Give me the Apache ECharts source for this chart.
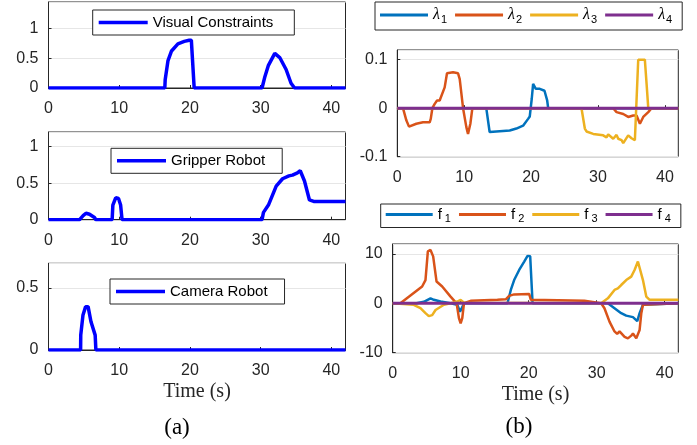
<!DOCTYPE html>
<html><head><meta charset="utf-8">
<script src="https://cdn.jsdelivr.net/npm/echarts@6/dist/echarts.min.js"></script>
<style>html,body{margin:0;padding:0;background:#fff}#c{width:697px;height:445px}</style>
</head><body><div id="c"></div>
<script>
// ---- data ----
var visX = [0, 16.45, 16.5, 16.9, 17.4, 18.3, 19.2, 19.9, 20.2, 20.6, 30.2, 30.6, 31.1, 32.0, 32.7, 33.6, 34.3, 34.8, 42];
var visY = [0, 0, 0.14, 0.46, 0.62, 0.74, 0.78, 0.8, 0.8, 0, 0, 0.19, 0.38, 0.58, 0.51, 0.31, 0.08, 0, 0];

var gripX = [0, 4.4, 4.9, 5.3, 5.8, 6.5, 6.7, 9.0, 9.1, 9.5, 9.9, 10.2, 10.4, 30.2, 30.4, 31.1, 32.2, 33.1, 34.0, 34.5, 35.2, 35.6, 36.2, 36.9, 37.5, 42];
var gripY = [0, 0, 0.055, 0.088, 0.074, 0.03, 0, 0, 0.2, 0.3, 0.29, 0.2, 0, 0, 0.1, 0.2, 0.46, 0.56, 0.6, 0.61, 0.64, 0.67, 0.53, 0.27, 0.25, 0.25];

var camX = [0, 4.54, 4.56, 4.87, 5.24, 5.6, 6.0, 6.6, 6.7, 42];
var camY = [0, 0, 0.12, 0.28, 0.35, 0.35, 0.23, 0.12, 0, 0];

var lam1X = [0, 13.3, 13.8, 14.8, 16.8, 17.8, 18.8, 19.55, 19.8, 20.1, 20.3, 20.45, 20.7, 21.3, 22.0, 22.4, 22.55, 42];
var lam1Y = [0, 0, -0.049, -0.048, -0.046, -0.042, -0.036, -0.022, -0.017, 0.02, 0.05, 0.053, 0.04, 0.04, 0.036, 0.016, 0, 0];

var lam2X = [0, 0.85, 1.35, 1.75, 2.84, 3.84, 4.84, 5.0, 5.24, 5.59, 5.94, 6.33, 7.08, 7.43, 8.33, 9.08, 9.33, 9.83, 10.32, 10.57, 10.92, 11.22, 32.27, 32.77, 33.77, 34.51, 35.26, 35.76, 36.26, 36.76, 37.51, 38.0, 42];
var lam2Y = [0, 0, -0.025, -0.038, -0.032, -0.029, -0.029, -0.022, 0, 0.009, 0.016, 0.016, 0.043, 0.072, 0.074, 0.072, 0.06, 0, -0.039, -0.053, -0.032, 0, 0, -0.008, -0.012, -0.018, -0.015, -0.015, -0.032, -0.018, -0.008, 0, 0];

var lam3X = [0, 27.53, 28.03, 28.28, 29.28, 30.77, 31.27, 31.52, 32.27, 32.77, 33.02, 33.52, 33.77, 34.51, 35.01, 35.51, 35.76, 36.01, 37.0, 37.26, 37.51, 42];
var lam3Y = [0, 0, -0.042, -0.048, -0.053, -0.056, -0.06, -0.054, -0.063, -0.055, -0.063, -0.066, -0.072, -0.056, -0.062, -0.066, -0.062, 0.1, 0.1, 0.05, 0, 0];

var lam4X = [0, 42];
var lam4Y = [0, 0];

var f1X = [0, 3.5, 4.58, 5.56, 6.05, 7.04, 8.51, 9.5, 9.9, 10.25, 10.5, 16.88, 17.37, 17.86, 18.6, 19.34, 19.83, 20.22, 20.42, 20.57, 31.64, 32.62, 33.6, 34.34, 35.33, 35.97, 36.31, 36.8, 37.05, 42];
var f1Y = [0, 0, 0.3, 1.0, 0.7, 0.35, 0, -0.3, -1.7, -0.7, 0, 0, 2.7, 4.7, 6.75, 8.45, 9.6, 9.5, 4.05, 0, 0, -1.0, -2.0, -2.5, -2.8, -3.6, -2.0, -0.3, 0, 0];

var f2X = [0, 1.13, 4.33, 4.82, 5.17, 5.56, 5.95, 6.45, 7.28, 8.51, 9.4, 9.74, 9.99, 10.23, 10.48, 11.46, 15.4, 16.63, 17.12, 17.86, 20.07, 20.32, 20.57, 28.19, 30.65, 31.14, 31.88, 32.62, 33.01, 33.36, 34.1, 34.59, 35.08, 35.33, 35.82, 36.06, 36.31, 36.56, 36.8, 37.05, 42];
var f2Y = [0, 0, 3.4, 4.7, 10.5, 10.8, 9.5, 4.4, 3.4, 1.35, 0, -3.0, -4.05, -3.0, 0, 0.5, 0.7, 0.8, 1.5, 1.8, 1.9, 0.7, 0.5, 0.5, 0, -1.0, -3.7, -5.7, -6.2, -5.7, -6.8, -7.1, -6.55, -6.1, -7.1, -7.4, -5.4, -2.0, -0.3, 0, 0];

var f3X = [0, 3.1, 4.08, 4.82, 5.31, 5.81, 6.3, 7.53, 8.51, 9.5, 9.99, 10.48, 30.65, 31.64, 32.62, 33.11, 33.6, 34.34, 35.08, 35.57, 36.06, 36.31, 36.8, 37.29, 37.79, 42];
var f3Y = [0, -0.3, -1.0, -2.0, -2.6, -2.4, -1.35, -0.3, 0, 0.35, 0.7, 0.1, 0, 1.0, 2.7, 3.0, 3.7, 4.7, 5.4, 6.75, 8.45, 8.45, 4.7, 1.35, 0.7, 0.7];

var f4X = [0, 42];
var f4Y = [0, 0];

// ---- helpers ----
function pts(xs, ys) { return xs.map(function (x, i) { return [x, ys[i]]; }); }
var AX = '#262626';
var sans = 'Liberation Sans';
var serif = 'Liberation Serif';

function xAx(gi, nameTxt) {
  var a = {
    type: 'value', gridIndex: gi, min: 0, max: 42, interval: 10,
    axisLine: { show: true, lineStyle: { color: AX, width: 1 } },
    axisTick: { show: true, inside: true, length: 3, lineStyle: { color: AX } },
    axisLabel: { color: AX, fontSize: 16, fontFamily: sans, margin: 13, showMaxLabel: false },
    splitLine: { show: false }
  };
  if (nameTxt) {
    a.name = nameTxt; a.nameLocation = 'middle'; a.nameGap = 32;
    a.nameTextStyle = { fontFamily: serif, fontSize: 20, color: AX };
  }
  return a;
}
function yAx(gi, mn, mx, iv) {
  return {
    type: 'value', gridIndex: gi, min: mn, max: mx, interval: iv,
    axisLine: { show: true, lineStyle: { color: AX, width: 1 } },
    axisTick: { show: true, inside: true, length: 3, lineStyle: { color: AX } },
    axisLabel: { color: AX, fontSize: 16, fontFamily: sans, margin: 10, showMaxLabel: false },
    splitLine: { show: true, lineStyle: { color: '#e6e6e6', width: 1 } }
  };
}
function ser(name, gi, xs, ys, color, w) {
  return {
    type: 'line', name: name, xAxisIndex: gi, yAxisIndex: gi, data: pts(xs, ys),
    symbol: 'none', showSymbol: false, animation: false,
    lineStyle: { color: color, width: w }, itemStyle: { color: color }
  };
}
function gridBox(l, t, w, h) {
  return { left: l, top: t, width: w, height: h, show: true, borderColor: AX, borderWidth: 1, backgroundColor: '#fff' };
}
function leftLegend(name, l, t, pr) {
  return {
    data: [name], left: l, top: t, icon: 'rect', itemWidth: 49, itemHeight: 3.5,
    padding: [5, pr, 5, 6], borderColor: AX, borderWidth: 1, backgroundColor: '#fff',
    textStyle: { fontSize: 15, fontFamily: sans, color: '#000' }, selectedMode: false
  };
}

var C1 = '#0072BD', C2 = '#D95319', C3 = '#EDB120', C4 = '#7E2F8E', B = '#0000FF';

var option = {
  animation: false,
  backgroundColor: '#fff',
  grid: [
    gridBox(48.5, 2, 297, 86),
    gridBox(48.5, 132, 297, 87.7),
    gridBox(48.5, 263.3, 297, 86.7),
    gridBox(397.3, 50, 281, 106.7),
    gridBox(392.7, 244, 285.6, 108.7)
  ],
  xAxis: [xAx(0), xAx(1), xAx(2, 'Time (s)'), xAx(3), xAx(4, 'Time (s)')],
  yAxis: [yAx(0, 0, 1.44, 0.5), yAx(1, 0, 1.2, 0.5), yAx(2, 0, 0.7, 0.5), yAx(3, -0.1, 0.12, 0.1), yAx(4, -10, 12, 10)],
  legend: [
    leftLegend('Visual Constraints', 92.7, 10, 21),
    leftLegend('Gripper Robot', 111, 148.3, 17),
    leftLegend('Camera Robot', 110, 279, 17),
    {
      data: ['λ1', 'λ2', 'λ3', 'λ4'], left: 375, top: 2, icon: 'rect', itemWidth: 48, itemHeight: 3,
      itemGap: 8, padding: [5, 10, 5, 5], borderColor: AX, borderWidth: 1, backgroundColor: '#fff', selectedMode: false,
      formatter: function (n) { return '{g|λ}{s|' + n.slice(1) + '}'; },
      textStyle: { color: '#000', rich: {
        g: { fontFamily: serif, fontStyle: 'italic', fontSize: 16, color: '#000' },
        s: { fontFamily: sans, fontSize: 11, color: '#000', padding: [9, 0, 0, 1] }
      } }
    },
    {
      data: ['f1', 'f2', 'f3', 'f4'], left: 380.7, top: 204, icon: 'rect', itemWidth: 47, itemHeight: 3,
      itemGap: 8, padding: [3, 10, 3, 5], borderColor: AX, borderWidth: 1, backgroundColor: '#fff', selectedMode: false,
      formatter: function (n) { return '{g|f}{s|' + n.slice(1) + '}'; },
      textStyle: { color: '#000', rich: {
        g: { fontFamily: sans, fontSize: 15, color: '#000' },
        s: { fontFamily: sans, fontSize: 11, color: '#000', padding: [9, 0, 0, 3] }
      } }
    }
  ],
  series: [
    ser('Visual Constraints', 0, visX, visY, B, 3.5),
    ser('Gripper Robot', 1, gripX, gripY, B, 3.5),
    ser('Camera Robot', 2, camX, camY, B, 3.5),
    ser('λ1', 3, lam1X, lam1Y, C1, 2.5),
    ser('λ2', 3, lam2X, lam2Y, C2, 2.5),
    ser('λ3', 3, lam3X, lam3Y, C3, 2.5),
    ser('λ4', 3, lam4X, lam4Y, C4, 3),
    ser('f1', 4, f1X, f1Y, C1, 2.5),
    ser('f2', 4, f2X, f2Y, C2, 2.5),
    ser('f3', 4, f3X, f3Y, C3, 2.5),
    ser('f4', 4, f4X, f4Y, C4, 3)
  ],
  graphic: [
    { type: 'text', x: 177, y: 428, style: { text: '(a)', font: '23px "Liberation Serif"', textAlign: 'center', textVerticalAlign: 'middle', fill: '#000' } },
    { type: 'text', x: 519, y: 427, style: { text: '(b)', font: '23px "Liberation Serif"', textAlign: 'center', textVerticalAlign: 'middle', fill: '#000' } }
  ]
};
var chart = echarts.init(document.getElementById('c'), null, { renderer: 'canvas' });
chart.setOption(option);
</script></body></html>
